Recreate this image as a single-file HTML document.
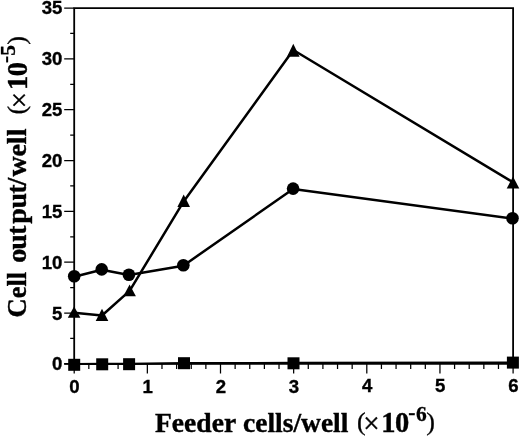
<!DOCTYPE html>
<html><head><meta charset="utf-8"><title>Figure</title>
<style>html,body{margin:0;padding:0;background:#fff}svg{display:block}text{fill:#000}.t{font-family:"Liberation Sans",Arial,sans-serif;font-weight:bold;font-size:18.6px;stroke:#000;stroke-width:0.35px}.s{font-family:"Liberation Serif","Times New Roman",serif;font-weight:bold;font-size:28px;stroke:#000;stroke-width:0.4px}.d{font-family:"Liberation Serif","Times New Roman",serif;font-weight:bold;font-size:28.5px;stroke:#000;stroke-width:0.4px}.p{font-family:"Liberation Serif","Times New Roman",serif;font-weight:normal;font-size:26px;stroke:#000;stroke-width:0.3px}.x{font-family:"Liberation Serif","Times New Roman",serif;font-weight:normal;font-size:29px;stroke:#000;stroke-width:0.4px}.su{font-family:"Liberation Serif","Times New Roman",serif;font-weight:bold;font-size:21.5px;stroke:#000;stroke-width:0.3px}</style></head><body>
<svg width="520" height="437" viewBox="0 0 520 437">
<rect width="520" height="437" fill="#fff"/>
<g stroke="#000" fill="none" stroke-width="1.8">
<path d="M74.2 364.09999999999997 V8.05 H513.1 V363.9"/>
<path d="M64.2 363.9 H513.1"/>
<path stroke-width="1.25" d="M64.2 363.90H74.2 M70.2 338.48H74.2 M64.2 313.06H74.2 M70.2 287.65H74.2 M64.2 262.23H74.2 M70.2 236.81H74.2 M64.2 211.39H74.2 M70.2 185.97H74.2 M64.2 160.56H74.2 M70.2 135.14H74.2 M64.2 109.72H74.2 M70.2 84.30H74.2 M64.2 58.89H74.2 M70.2 33.47H74.2 M64.2 8.05H74.2 "/>
<path stroke-width="1.25" d="M74.20 363.9V373.4 M88.83 363.9V369.1 M103.46 363.9V369.1 M118.09 363.9V369.1 M132.72 363.9V369.1 M147.35 363.9V373.4 M161.98 363.9V369.1 M176.61 363.9V369.1 M191.24 363.9V369.1 M205.87 363.9V369.1 M220.50 363.9V373.4 M235.13 363.9V369.1 M249.76 363.9V369.1 M264.39 363.9V369.1 M279.02 363.9V369.1 M293.65 363.9V373.4 M308.28 363.9V369.1 M322.91 363.9V369.1 M337.54 363.9V369.1 M352.17 363.9V369.1 M366.80 363.9V373.4 M381.43 363.9V369.1 M396.06 363.9V369.1 M410.69 363.9V369.1 M425.32 363.9V369.1 M439.95 363.9V373.4 M454.58 363.9V369.1 M469.21 363.9V369.1 M483.84 363.9V369.1 M498.47 363.9V369.1 M513.10 363.9V373.4 "/>
</g>
<g stroke="#000" fill="none" stroke-width="2.5" stroke-linejoin="round">
<polyline points="74.2,276.7 101.7,269.8 128.9,275.1 183.3,265.7 293.1,189.0 512.5,218.7"/>
<polyline points="74.1,312.7 102.0,315.5 129.6,290.9 183.7,201.4 293.3,50.0 513.0,182.3"/>
<polyline stroke-width="2.2" points="74.2,364.0 102.2,363.9 129.1,363.8 184.0,363.2 293.5,362.9 512.9,362.5"/>
</g>
<g fill="#000">
<circle cx="74.2" cy="276.3" r="6.3"/>
<circle cx="101.7" cy="269.4" r="6.3"/>
<circle cx="128.9" cy="274.7" r="6.3"/>
<circle cx="183.35" cy="265.3" r="6.3"/>
<circle cx="293.1" cy="188.6" r="6.3"/>
<circle cx="512.5" cy="218.3" r="6.3"/>
<path d="M74.1 306.5L80.4 317.7H67.8Z"/>
<path d="M102.0 308.8L108.3 320.9H95.7Z"/>
<path d="M129.6 284.4L135.9 296.3H123.3Z"/>
<path d="M183.7 194.6L190.0 207.0H177.4Z"/>
<path d="M293.3 43.8L299.6 56.7H287.0Z"/>
<path d="M513.0 176.6L519.3 188.6H506.7Z"/>
<rect x="68.2" y="358.8" width="12" height="12"/>
<rect x="96.2" y="358.3" width="12" height="12"/>
<rect x="123.1" y="358.2" width="12" height="12"/>
<rect x="178.0" y="357.2" width="12" height="12"/>
<rect x="287.5" y="357.3" width="12" height="12"/>
<rect x="506.9" y="356.6" width="12" height="12"/>
</g>
<text class="t" x="62.4" y="370.4" text-anchor="end">0</text>
<text class="t" x="62.4" y="319.5" text-anchor="end">5</text>
<text class="t" x="62.4" y="268.6" text-anchor="end">10</text>
<text class="t" x="62.4" y="217.7" text-anchor="end">15</text>
<text class="t" x="62.4" y="166.8" text-anchor="end">20</text>
<text class="t" x="62.4" y="115.9" text-anchor="end">25</text>
<text class="t" x="62.4" y="65.0" text-anchor="end">30</text>
<text class="t" x="62.4" y="14.1" text-anchor="end">35</text>
<text class="t" x="74.5" y="392.90" text-anchor="middle">0</text>
<text class="t" x="147.7" y="392.77" text-anchor="middle">1</text>
<text class="t" x="220.8" y="392.64" text-anchor="middle">2</text>
<text class="t" x="294.0" y="392.51" text-anchor="middle">3</text>
<text class="t" x="367.1" y="392.38" text-anchor="middle">4</text>
<text class="t" x="440.2" y="392.25" text-anchor="middle">5</text>
<text class="t" x="513.4" y="392.12" text-anchor="middle">6</text>
<text class="s"><tspan class="s" x="155.00" y="431.50" textLength="80.70" lengthAdjust="spacingAndGlyphs">Feeder</tspan> <tspan class="s" x="243.00" y="431.50" textLength="105.40" lengthAdjust="spacingAndGlyphs">cells/well</tspan> <tspan class="p" x="356.90" y="430.20">(</tspan><tspan class="x" x="363.20" y="433.00">×</tspan><tspan class="d" x="381.30 394.98" y="431.50">10</tspan><tspan class="su" x="408.30" y="418.90">-</tspan><tspan class="su" x="416.00" y="421.20">6</tspan><tspan class="p" x="426.20" y="430.20">)</tspan></text>
<g transform="translate(26,0) rotate(-90)">
<text class="s"><tspan class="s" x="-317.40" y="0.00" textLength="45.60" lengthAdjust="spacingAndGlyphs">Cell</tspan> <tspan class="s" x="-262.70 -249.70 -234.90 -223.80 -208.40 -193.80 -185.60 -176.50 -156.40 -144.30 -136.35" y="0.00">output/well</tspan> <tspan class="p" x="-114.40" y="-0.90">(</tspan><tspan class="x" x="-108.20" y="3.10">×</tspan><tspan class="d" x="-89.90 -76.22" y="0.60">10</tspan><tspan class="su" x="-62.90" y="-13.90">-</tspan><tspan class="su" x="-55.80" y="-10.90">5</tspan><tspan class="p" x="-44.70" y="-0.90">)</tspan></text>
</g>
</svg>
</body></html>
